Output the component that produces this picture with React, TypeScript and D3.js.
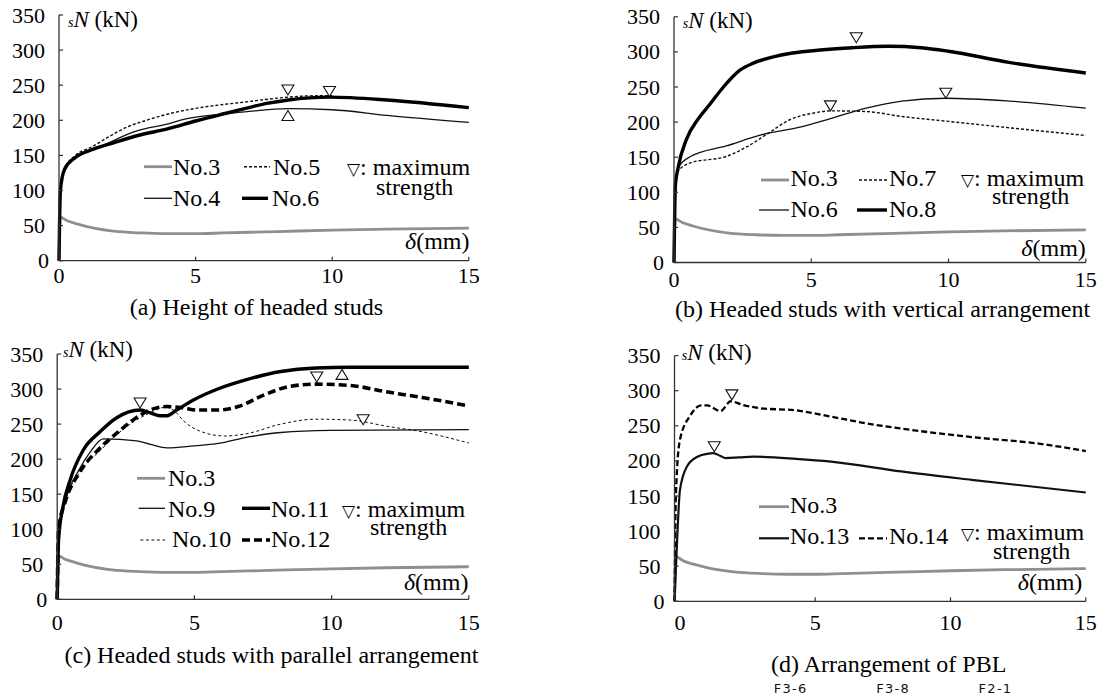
import React from 'react'
import * as d3 from 'd3'

type Pt = [number, number]

const X_TICKS = [0, 5, 10, 15]
const Y_TICKS = [0, 50, 100, 150, 200, 250, 300, 350]

// reference specimen, shared by all four panels
const NO3: Pt[] = [[0, 0], [0.04, 62], [0.3, 57], [0.7, 52], [1.2, 47], [2, 42], [3, 39.5], [4, 38.5], [5, 38.5], [6, 39.5], [8, 41.5], [10, 43.5], [12, 45], [15, 46.5]]

// (a) height of headed studs
const NO4: Pt[] = [[0, 0], [0.05, 100], [0.2, 130], [0.6, 148], [1.5, 162], [2.5, 180], [2.85, 185], [4, 195], [4.64, 202], [6, 209], [6.8, 212], [8.4, 216.5], [10, 215], [12, 207], [15, 197]]
const NO5: Pt[] = [[0, 0], [0.05, 100], [0.2, 130], [0.6, 150], [1.2, 162], [1.8, 176], [2.47, 190], [3.2, 200], [4, 209], [5, 217], [6.8, 226], [8.4, 233], [9.4, 235], [10, 235]]
const NO6: Pt[] = [[0, 0], [0.05, 100], [0.2, 130], [0.6, 147], [1.2, 158], [2, 168], [2.85, 178], [4, 188], [5, 199], [6, 209], [6.83, 217], [7.6, 224], [8.4, 229], [9.9, 233], [12, 229], [15, 218]]
const MAX_A: Pt[] = [[8.38, 236], [9.9, 234]]
const MAX_A_UP: Pt[] = [[8.38, 214]]

// (b) vertical arrangement
const NO6_B: Pt[] = [[0, 0], [0.05, 100], [0.15, 135], [0.6, 151], [1.9, 166], [3.2, 182], [4.5, 192], [5.7, 205], [7, 220], [8.3, 230], [9.9, 234], [12.2, 230], [15, 220]]
const NO7: Pt[] = [[0, 0], [0.05, 100], [0.15, 130], [0.6, 142], [1.9, 151], [2.66, 165], [3.43, 184], [4.2, 203], [5.1, 213], [5.74, 216], [7, 215], [8.3, 208], [10, 201], [12.2, 192], [15, 181]]
const NO8: Pt[] = [[0, 0], [0.05, 110], [0.15, 135], [0.45, 175], [0.89, 205], [1.3, 225], [1.8, 250], [2.4, 274], [2.89, 284], [3.62, 293], [5.44, 303], [6.5, 306], [7.8, 308], [9, 306], [10, 301], [12.2, 285], [15, 270]]
const MAX_B: Pt[] = [[6.64, 313], [9.9, 234], [5.7, 216]]

// (c) parallel arrangement
const NO9: Pt[] = [[0, 0], [0.05, 90], [0.3, 140], [0.8, 185], [1.2, 210], [1.68, 229], [2.9, 226], [3.4, 221], [4, 216], [5, 219], [5.81, 222], [7.03, 232], [8.15, 238], [9.94, 241], [15, 242]]
const NO10: Pt[] = [[0, 0], [0.05, 95], [0.3, 140], [0.8, 180], [1.56, 212], [2.17, 235], [2.77, 253], [3.38, 266], [3.93, 274], [4.3, 268], [4.57, 256], [5.2, 240], [6.1, 233], [6.87, 236], [8.15, 250], [9.42, 257], [10.7, 255.7], [12, 247], [13.3, 239], [15, 223]]
const NO11: Pt[] = [[0, 0], [0.05, 85], [0.2, 130], [0.47, 170], [0.95, 213], [1.56, 239], [2.17, 259], [3.02, 270], [3.4, 266], [3.75, 262], [4, 262], [4.35, 270], [4.95, 284], [5.85, 300], [6.87, 313], [8.15, 325], [9.42, 330], [10.7, 331], [15, 331]]
const NO12: Pt[] = [[0, 0], [0.05, 100], [0.3, 140], [0.8, 180], [1.56, 216], [2.17, 237], [2.77, 256], [3.38, 270], [4, 275], [4.6, 273], [5.1, 270], [5.85, 270], [6.6, 275], [7.5, 291], [8.5, 304], [9.46, 307], [10.7, 305], [12, 296], [13.3, 288], [15, 276]]
const MAX_C: Pt[] = [[3.02, 273], [9.46, 310], [11.15, 249]]
const MAX_C_UP: Pt[] = [[10.38, 328]]

// (d) PBL
const NO3_D: Pt[] = [[-0.2, 0], [-0.15, 64], [0.1, 58], [0.5, 53], [1, 48], [2, 42], [3, 39.5], [4, 38.5], [5, 38.5], [6, 39.5], [8, 41.5], [10, 43.5], [12, 45], [15, 46.5]]
const NO13: Pt[] = [[-0.2, 0], [-0.1, 90], [0, 158], [0.26, 192], [0.65, 206], [1, 210], [1.23, 211], [1.5, 207], [1.69, 204], [2.2, 205], [2.73, 206], [4.29, 203], [5.59, 199], [8.18, 185], [10.78, 173], [15, 155]]
const NO14: Pt[] = [[-0.2, 0], [-0.15, 150], [0, 230], [0.39, 265], [0.78, 279], [1, 279], [1.5, 271], [1.88, 285], [2.3, 280], [2.99, 275], [4.29, 272], [5.59, 263], [6.89, 253.5], [8.18, 246], [10.78, 234], [13.38, 224], [15, 214]]
const MAX_D: Pt[] = [[1.92, 287], [1.27, 213]]

const FOOTER = ['F3-6', 'F3-8', 'F2-1']

const SERIF = 'Liberation Serif, Times New Roman, serif'

const STYLES: Record<string, { stroke: string; width: number; dash?: string }> = {
  gray: { stroke: '#8f8f8f', width: 2.8 },
  thin: { stroke: '#111', width: 1.3 },
  med: { stroke: '#111', width: 2.2 },
  thick: { stroke: '#000', width: 3.4 },
  dash: { stroke: '#111', width: 1.4, dash: '3,2' },
  thindash: { stroke: '#111', width: 1, dash: '3,2.5' },
  meddash: { stroke: '#000', width: 2.3, dash: '6,3' },
  thickdash: { stroke: '#000', width: 3.6, dash: '8,4' },
}

type Legend = { label: string; style: string; x0: number; x1: number; y: number; tx: number; ty: number }

type PanelCfg = {
  left: number; right: number; top: number; bottom: number
  xDomain: [number, number]
  series: { data: Pt[]; style: string }[]
  down: Pt[]
  up: Pt[]
  legend: Legend[]
  maxAt: [number, number]
  strAt: [number, number]
  yLabel: [number, number]
  xLabel: [number, number]
  xTickDy: number
  title: string
  titleAt: [number, number]
}

const serif = { fontFamily: SERIF }

function Panel({ c }: { c: PanelCfg }) {
  const x = d3.scaleLinear().domain(c.xDomain).range([c.left, c.right])
  const y = d3.scaleLinear().domain([0, 350]).range([c.bottom, c.top])
  const line = d3.line<Pt>().x(d => x(d[0])).y(d => y(d[1])).curve(d3.curveMonotoneX)
  const axisColor = '#333'
  return (
    <g fill="#000">
      {c.series.map((s, i) => {
        const st = STYLES[s.style]
        return <path key={i} d={line(s.data) || ''} fill="none" stroke={st.stroke} strokeWidth={st.width}
          strokeDasharray={st.dash} strokeLinejoin="round" />
      })}
      <line x1={c.left} x2={c.left} y1={c.top} y2={c.bottom} stroke={axisColor} strokeWidth={1.3} />
      <line x1={c.left} x2={c.right} y1={c.bottom} y2={c.bottom} stroke={axisColor} strokeWidth={1.3} />
      {Y_TICKS.map(t => (
        <g key={'y' + t}>
          <line x1={c.left} x2={c.left + 4} y1={y(t)} y2={y(t)} stroke={axisColor} strokeWidth={1.2} />
          <text style={serif} x={t === 0 ? c.left - 10 : c.left - 14} y={y(t) + 7.5} fontSize={22} textAnchor="end">{t}</text>
        </g>
      ))}
      {X_TICKS.map(t => (
        <g key={'x' + t}>
          {t > 0 && <line x1={x(t)} x2={x(t)} y1={c.bottom} y2={c.bottom - 4} stroke={axisColor} strokeWidth={1.2} />}
          <text style={serif} x={x(t)} y={c.bottom + c.xTickDy} fontSize={22} textAnchor="middle">{t}</text>
        </g>
      ))}
      {c.down.map((p, i) => (
        <path key={'d' + i} d={`M${x(p[0]) - 6},${y(p[1]) - 10}L${x(p[0]) + 6},${y(p[1]) - 10}L${x(p[0])},${y(p[1])}Z`}
          fill="#fff" stroke="#111" strokeWidth={1.1} />
      ))}
      {c.up.map((p, i) => (
        <path key={'u' + i} d={`M${x(p[0])},${y(p[1])}L${x(p[0]) - 6},${y(p[1]) + 10}L${x(p[0]) + 6},${y(p[1]) + 10}Z`}
          fill="#fff" stroke="#111" strokeWidth={1.1} />
      ))}
      {c.legend.map((l, i) => {
        const st = STYLES[l.style]
        return (
          <g key={'l' + i}>
            <line x1={l.x0} x2={l.x1} y1={l.y} y2={l.y} stroke={st.stroke} strokeWidth={st.width} strokeDasharray={st.dash} />
            <text style={serif} x={l.tx} y={l.ty} fontSize={24}>{l.label}</text>
          </g>
        )
      })}
      {/* two-line note kept in one text element */}
      <text style={serif} fontSize={24}>
        <tspan x={c.maxAt[0]} y={c.maxAt[1]} style={{ fontFamily: 'DejaVu Sans' }} fontSize={17}>▽</tspan>
        <tspan>: maximum</tspan>
        <tspan x={c.strAt[0]} y={c.strAt[1]}>strength</tspan>
      </text>
      <text style={serif} x={c.yLabel[0]} y={c.yLabel[1]} fontSize={23}>
        <tspan fontStyle="italic" fontSize={14}>s</tspan>
        <tspan fontStyle="italic">N</tspan> (kN)
      </text>
      <text style={serif} x={c.xLabel[0]} y={c.xLabel[1]} fontSize={24} textAnchor="end">
        <tspan fontStyle="italic">δ</tspan>(mm)
      </text>
      <text style={serif} x={c.titleAt[0]} y={c.titleAt[1]} fontSize={24} textAnchor="middle">{c.title}</text>
    </g>
  )
}

export default function App() {
  const panels: PanelCfg[] = [
    {
      left: 59, right: 468.8, top: 15, bottom: 260.7, xDomain: [0, 15],
      series: [{ data: NO3, style: 'gray' }, { data: NO4, style: 'thin' }, { data: NO5, style: 'dash' }, { data: NO6, style: 'thick' }],
      down: MAX_A, up: MAX_A_UP,
      legend: [
        { label: 'No.3', style: 'gray', x0: 144, x1: 172, y: 166.7, tx: 173, ty: 175 },
        { label: 'No.5', style: 'dash', x0: 244, x1: 270, y: 166.7, tx: 273, ty: 175 },
        { label: 'No.4', style: 'thin', x0: 144, x1: 172, y: 198.3, tx: 173, ty: 206 },
        { label: 'No.6', style: 'thick', x0: 242, x1: 268, y: 198.3, tx: 272, ty: 206 },
      ],
      maxAt: [347, 175], strAt: [376, 195],
      yLabel: [68, 27], xLabel: [469.5, 249], xTickDy: 22.5,
      title: '(a) Height of headed studs', titleAt: [256.5, 315],
    },
    {
      left: 674, right: 1085.8, top: 16.8, bottom: 262.5, xDomain: [0, 15],
      series: [{ data: NO3, style: 'gray' }, { data: NO6_B, style: 'thin' }, { data: NO7, style: 'dash' }, { data: NO8, style: 'thick' }],
      down: MAX_B, up: [],
      legend: [
        { label: 'No.3', style: 'gray', x0: 761, x1: 789, y: 180, tx: 790.5, ty: 186 },
        { label: 'No.7', style: 'dash', x0: 859, x1: 887, y: 180, tx: 889, ty: 186 },
        { label: 'No.6', style: 'thin', x0: 759, x1: 789, y: 210, tx: 790.5, ty: 216.7 },
        { label: 'No.8', style: 'thick', x0: 857, x1: 887, y: 210, tx: 889, ty: 216.7 },
      ],
      maxAt: [961, 186], strAt: [992, 204],
      yLabel: [682.8, 28], xLabel: [1085.8, 256], xTickDy: 24,
      title: '(b) Headed studs with vertical arrangement', titleAt: [882.6, 316.7],
    },
    {
      left: 57.2, right: 468.8, top: 354, bottom: 599.3, xDomain: [0, 15],
      series: [{ data: NO3, style: 'gray' }, { data: NO9, style: 'thin' }, { data: NO10, style: 'thindash' }, { data: NO12, style: 'thickdash' }, { data: NO11, style: 'thick' }],
      down: MAX_C, up: MAX_C_UP,
      legend: [
        { label: 'No.3', style: 'gray', x0: 137, x1: 165, y: 478.3, tx: 168, ty: 486 },
        { label: 'No.9', style: 'thin', x0: 138.6, x1: 165, y: 508.3, tx: 168, ty: 516.7 },
        { label: 'No.11', style: 'thick', x0: 242, x1: 270, y: 508.3, tx: 271, ty: 516.7 },
        { label: 'No.10', style: 'thindash', x0: 140.4, x1: 165, y: 540, tx: 172, ty: 547.3 },
        { label: 'No.12', style: 'thickdash', x0: 242, x1: 270, y: 540, tx: 271, ty: 547.3 },
      ],
      maxAt: [342, 516.7], strAt: [370, 535],
      yLabel: [63, 357], xLabel: [468.4, 590], xTickDy: 30.5,
      title: '(c) Headed studs with parallel arrangement', titleAt: [271.4, 663.3],
    },
    {
      left: 674.5, right: 1085.8, top: 355.6, bottom: 601.3, xDomain: [-0.2, 15],
      series: [{ data: NO3_D, style: 'gray' }, { data: NO13, style: 'med' }, { data: NO14, style: 'meddash' }],
      down: MAX_D, up: [],
      legend: [
        { label: 'No.3', style: 'gray', x0: 759, x1: 789, y: 506.7, tx: 790, ty: 513.3 },
        { label: 'No.13', style: 'med', x0: 759, x1: 789, y: 538.3, tx: 790, ty: 544 },
        { label: 'No.14', style: 'meddash', x0: 859, x1: 887, y: 538.3, tx: 889, ty: 544 },
      ],
      maxAt: [961, 540], strAt: [993, 559],
      yLabel: [681.8, 360], xLabel: [1082.3, 590], xTickDy: 29,
      title: '(d) Arrangement of PBL', titleAt: [888.7, 671.7],
    },
  ]
  const footerX = d3.scalePoint<string>().domain(FOOTER).range([790.7, 995.5])
  return (
    <div style={{ position: 'absolute', left: 0, top: 0 }}>
      <svg width={1101} height={696} style={{ display: 'block', background: '#fff' }}>
        {panels.map((p, i) => <Panel key={i} c={p} />)}
        {FOOTER.map(f => (
          <text key={f} x={footerX(f)} y={692.5} style={{ fontFamily: 'DejaVu Sans' }} fontSize={13} letterSpacing={1.3}
            textAnchor="middle" fill="#111">{f}</text>
        ))}
      </svg>
    </div>
  )
}
